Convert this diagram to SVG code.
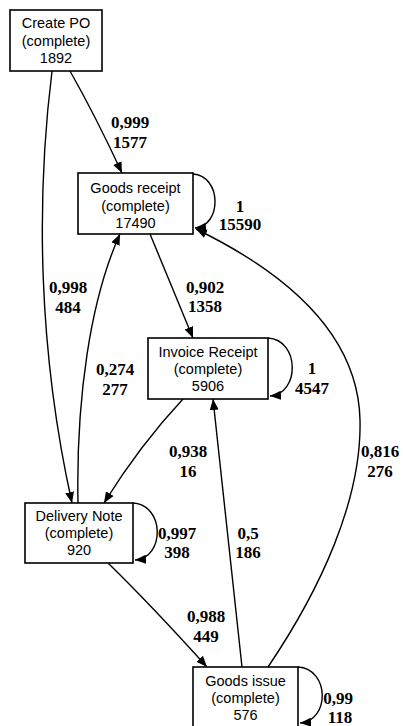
<svg xmlns="http://www.w3.org/2000/svg" width="403" height="726" viewBox="0 0 403 726">
<defs>
<marker id="arr" markerUnits="userSpaceOnUse" markerWidth="12" markerHeight="10" viewBox="0 0 12 10" refX="11" refY="5" orient="auto">
<path d="M0,0.5 L11,5 L0,9.5 Z" fill="#000"/>
</marker>
<style>
.box{fill:#fff;stroke:#000;stroke-width:1.6}
.nt{font-family:"Liberation Sans",Arial,sans-serif;font-size:14.5px;text-anchor:middle;fill:#000}
.el{font-family:"Liberation Serif","Times New Roman",serif;font-size:17px;font-weight:bold;text-anchor:middle;fill:#000}
.e{fill:none;stroke:#000;stroke-width:1.4;marker-end:url(#arr)}
</style>
</defs>
<rect width="403" height="726" fill="#fff"/>
<g id="connectors">
<path class="e" d="M70,71 Q95,115 122,173"/>
<path class="e" d="M52,71 C36,200 38,350 72,503"/>
<path class="e" d="M78,503 C76,400 90,300 120,234"/>
<path class="e" d="M193,174 C222,176 222,226 195,228"/>
<path class="e" d="M150,234 L193,338"/>
<path class="e" d="M268,338 C300,340 300,394 270,396"/>
<path class="e" d="M183,399 Q140,445 104,503"/>
<path class="e" d="M133,503 C165,505 165,558 135,560"/>
<path class="e" d="M108,563 Q152,606 207,667"/>
<path class="e" d="M242,667 L213,399"/>
<path class="e" d="M268,667 C320,590 362,500 360,420 C358,330 280,270 196,229"/>
<path class="e" d="M298,667 C330,669 330,721 300,723"/>
<text class="el" x="130" y="128">0,999</text><text class="el" x="130" y="148">1577</text>
<text class="el" x="68" y="293">0,998</text><text class="el" x="68" y="313">484</text>
<text class="el" x="240" y="212">1</text><text class="el" x="240" y="230">15590</text>
<text class="el" x="205" y="293">0,902</text><text class="el" x="205" y="312">1358</text>
<text class="el" x="115" y="375">0,274</text><text class="el" x="115" y="395">277</text>
<text class="el" x="312" y="374">1</text><text class="el" x="312" y="394">4547</text>
<text class="el" x="188" y="457">0,938</text><text class="el" x="188" y="477">16</text>
<text class="el" x="380" y="457">0,816</text><text class="el" x="380" y="477">276</text>
<text class="el" x="177" y="539">0,997</text><text class="el" x="177" y="558">398</text>
<text class="el" x="248" y="539">0,5</text><text class="el" x="248" y="558">186</text>
<text class="el" x="206" y="622">0,988</text><text class="el" x="206" y="642">449</text>
<text class="el" x="338" y="704">0,99</text><text class="el" x="340" y="723">118</text>
</g>
<g id="create-po">
<rect class="box" x="10" y="10" width="92" height="61"/>
<text class="nt" x="56" y="28">Create PO</text>
<text class="nt" x="56" y="46">(complete)</text>
<text class="nt" x="56" y="63">1892</text>
</g>
<g id="goods-receipt">
<rect class="box" x="78" y="173" width="115" height="61"/>
<text class="nt" x="135.5" y="193">Goods receipt</text>
<text class="nt" x="135.5" y="211">(complete)</text>
<text class="nt" x="135.5" y="228">17490</text>
</g>
<g id="invoice-receipt">
<rect class="box" x="148" y="338" width="120" height="61"/>
<text class="nt" x="208" y="357">Invoice Receipt</text>
<text class="nt" x="208" y="374">(complete)</text>
<text class="nt" x="208" y="391">5906</text>
</g>
<g id="delivery-note">
<rect class="box" x="25" y="503" width="108" height="60"/>
<text class="nt" x="79" y="521">Delivery Note</text>
<text class="nt" x="79" y="538">(complete)</text>
<text class="nt" x="79" y="555">920</text>
</g>
<g id="goods-issue">
<rect class="box" x="193" y="667" width="105" height="61"/>
<text class="nt" x="245.5" y="686">Goods issue</text>
<text class="nt" x="245.5" y="703">(complete)</text>
<text class="nt" x="245.5" y="720">576</text>
</g>
</svg>
